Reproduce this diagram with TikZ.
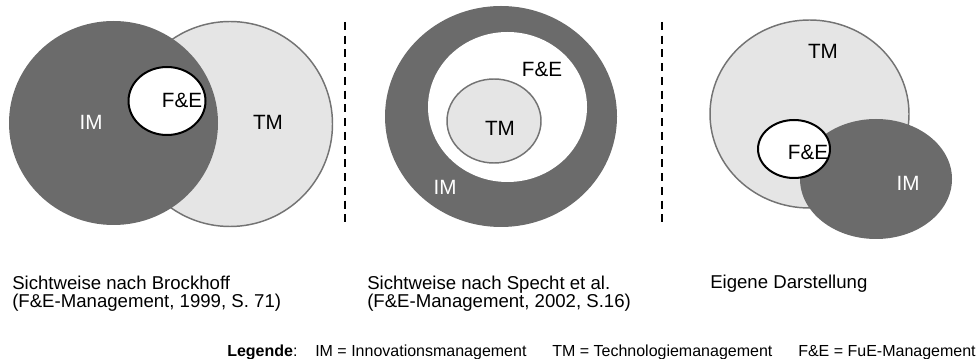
\documentclass[tikz,border=0pt]{standalone}
\usepackage{fontspec}
\setmainfont{Liberation Sans}
\definecolor{imdark}{HTML}{6B6B6B}
\definecolor{tmlight}{HTML}{E5E5E5}
\definecolor{tmedge}{HTML}{737373}

\begin{document}
\begin{tikzpicture}[x=0.75pt,y=-0.75pt,
  imarea/.style={fill=imdark},
  tmarea/.style={fill=tmlight, draw=tmedge, line width=1.1pt},
  fearea/.style={fill=white, draw=black, line width=1.5pt},
  lbl/.style={font=\fontsize{15.5}{18}\selectfont, inner sep=0pt},
  lbldark/.style={lbl, text=white},
  caption/.style={anchor=base west, align=left, inner sep=0pt,
    font=\fontsize{13.95}{13.6}\selectfont},
  legend/.style={anchor=base west, inner sep=0pt, font=\fontsize{12}{14}\selectfont},
  divider/.style={line width=1.6pt, dash pattern=on 6pt off 4.3pt}]
\useasboundingbox (0,0) rectangle (977,359);

% --- view after Brockhoff: IM overlaps TM, F&E sits in the intersection
\path[tmarea] (230,124) ellipse [x radius=102.5, y radius=102.5];
\path[imarea] (113.5,123) ellipse [x radius=104.5, y radius=102];
\path[fearea] (167,101) ellipse [x radius=38.5, y radius=34];
\node[lbldark] (im1) at (91,122) {IM};
\node[lbl] (tm1) at (268,122) {TM};
\node[lbl] (fe1) at (182,100) {F\&E};

% --- view after Specht et al.: nested rings
\path[imarea] (501,116.5) ellipse [x radius=116, y radius=110.5];
\path[fill=white] (507.5,107) ellipse [x radius=79.5, y radius=75];
\path[tmarea] (494,121) ellipse [x radius=47, y radius=42];
\node[lbl] (fe2) at (542,69) {F\&E};
\node[lbl] (tm2) at (500,128) {TM};
\node[lbldark] (im2) at (445,187) {IM};

% --- own view
\path[tmarea] (809.5,114) ellipse [x radius=99.5, y radius=94];
\path[imarea] (876,179) ellipse [x radius=76, y radius=60];
\path[fearea] (794,149) ellipse [x radius=36, y radius=29];
\node[lbl] (tm3) at (823,51) {TM};
\node[lbl] (fe3) at (808,152) {F\&E};
\node[lbldark] (im3) at (908,183) {IM};

% --- dashed separators
\coordinate (d1top) at (345,22);
\coordinate (d1bot) at (345,227);
\coordinate (d2top) at (662,22);
\coordinate (d2bot) at (662,227);
\draw[divider] (d1top) -- (d1bot);
\draw[divider] (d2top) -- (d2bot);

% --- captions (base anchor sits on the last line)
\node[caption] (cap1) at (12,307.5) {Sichtweise nach Brockhoff\\(F\&E-Management, 1999, S. 71)};
\node[caption] (cap2) at (367,307.5) {Sichtweise nach Specht et al.\\(F\&E-Management, 2002, S.16)};
\node[caption] (cap3) at (710,289) {Eigene Darstellung};

% --- legend
\node[legend] (leg) at (227,356.5) {\textbf{Legende}:};
\node[legend] (legim) at (315,356.5) {IM = Innovationsmanagement};
\node[legend] (legtm) at (552,356.5) {TM = Technologiemanagement};
\node[legend] (legfe) at (798,356.5) {F\&E = FuE-Management};
\end{tikzpicture}
\end{document}
